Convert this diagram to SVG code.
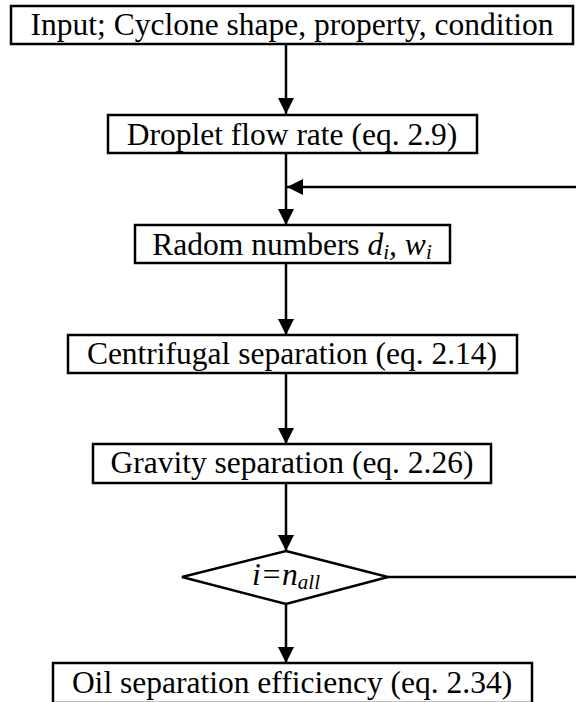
<svg xmlns="http://www.w3.org/2000/svg" width="576" height="702" viewBox="0 0 576 702">
  <style>
    .box { fill: #fff; stroke: #000; stroke-width: 2.5; }
    .lbl { font-family: "Liberation Serif", "Times New Roman", serif; font-size: 31.5px; fill: #000; text-anchor: middle; }
    .it { font-style: italic; }
    .sub { font-size: 21px; }
    .wire { fill: none; stroke: #000; stroke-width: 2.5; }
  </style>
  <defs>
    <marker id="head" viewBox="0 0 10 10" refX="10" refY="5" markerWidth="6.5" markerHeight="6.5" orient="auto" markerUnits="strokeWidth">
      <path d="M0,0 L10,5 L0,10 Z" fill="#000"/>
    </marker>
  </defs>
  <rect width="576" height="702" fill="#fff"/>

  <g id="connectors">
    <line class="wire" x1="286" y1="44" x2="286" y2="114" marker-end="url(#head)"/>
    <line class="wire" x1="286" y1="153" x2="286" y2="225" marker-end="url(#head)"/>
    <line class="wire" x1="576" y1="187" x2="287" y2="187" marker-end="url(#head)"/>
    <line class="wire" x1="286" y1="263" x2="286" y2="335" marker-end="url(#head)"/>
    <line class="wire" x1="286" y1="373" x2="286" y2="444" marker-end="url(#head)"/>
    <line class="wire" x1="286" y1="483" x2="286" y2="551" marker-end="url(#head)"/>
    <line class="wire" x1="388" y1="577" x2="576" y2="577"/>
    <line class="wire" x1="286" y1="604" x2="286" y2="663" marker-end="url(#head)"/>
  </g>

  <g id="input">
    <rect class="box" x="11" y="6" width="562" height="38"/>
    <text class="lbl" x="292" y="35">Input; Cyclone shape, property, condition</text>
  </g>

  <g id="droplet-flow">
    <rect class="box" x="108" y="115" width="369" height="38"/>
    <text class="lbl" x="292" y="145">Droplet flow rate (eq. 2.9)</text>
  </g>

  <g id="random-numbers">
    <rect class="box" x="135" y="225" width="315" height="38"/>
    <text class="lbl" x="292" y="255">Radom numbers <tspan class="it">d<tspan class="sub" dy="4">i</tspan><tspan dy="-4">, w</tspan><tspan class="sub" dy="4">i</tspan></tspan></text>
  </g>

  <g id="centrifugal">
    <rect class="box" x="68" y="335" width="449" height="38"/>
    <text class="lbl" x="292" y="364">Centrifugal separation (eq. 2.14)</text>
  </g>

  <g id="gravity">
    <rect class="box" x="93" y="444" width="398" height="39"/>
    <text class="lbl" x="292" y="473">Gravity separation (eq. 2.26)</text>
  </g>

  <g id="loop-check">
    <polygon class="box" points="286,551 388,577 286,604 182,577"/>
    <text class="lbl it" x="286" y="585">i=n<tspan class="sub" dy="4">all</tspan></text>
  </g>

  <g id="efficiency">
    <rect class="box" x="53" y="663" width="479" height="40"/>
    <text class="lbl" x="292" y="693">Oil separation efficiency (eq. 2.34)</text>
  </g>
</svg>
